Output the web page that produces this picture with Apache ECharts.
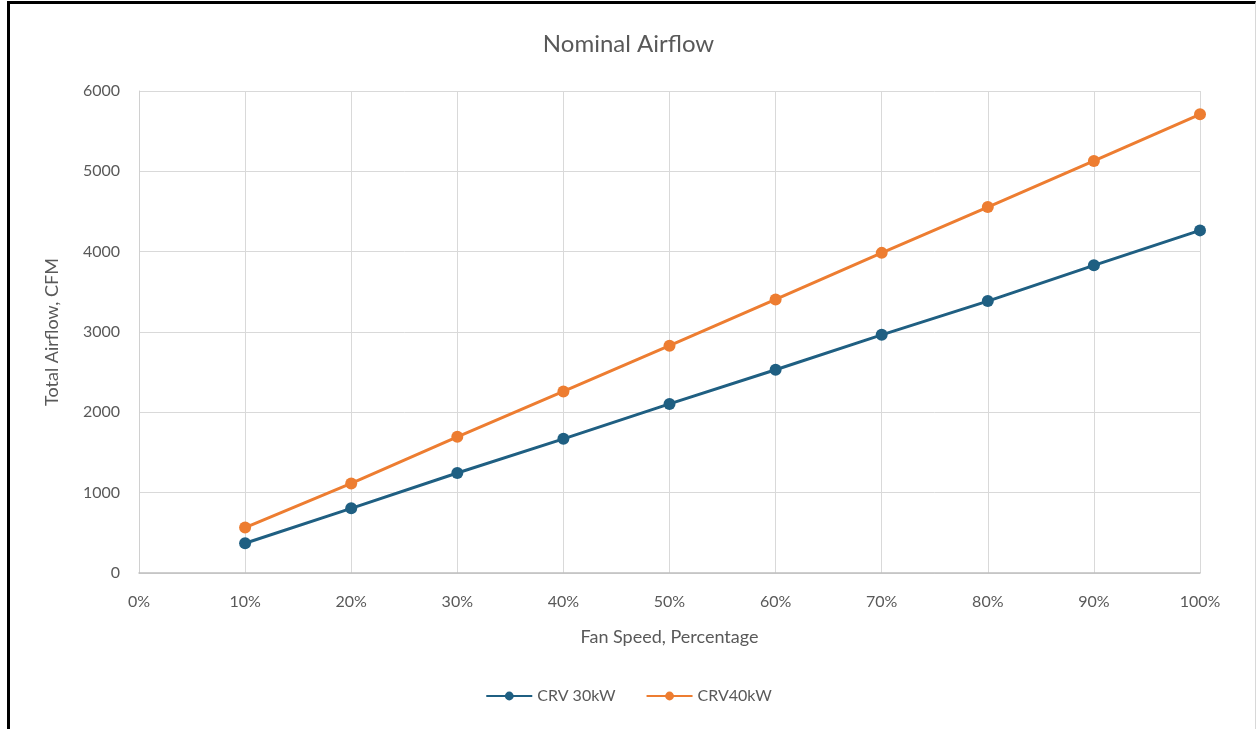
<!DOCTYPE html>
<html>
<head>
<meta charset="utf-8">
<script src="https://cdn.jsdelivr.net/npm/echarts@6/dist/echarts.min.js"></script>
<style>
html,body{margin:0;padding:0;background:#fff;}
#frame{position:absolute;left:7px;top:1px;width:1245px;height:728px;border-top:3px solid #000;border-left:3px solid #000;border-right:1px solid #d8d8d8;}
#chart{position:absolute;left:0;top:0;width:1257px;height:729px;}
</style>
</head>
<body>
<div id="frame"></div>
<div id="chart"></div>
<script>
const fanSpeed = [10, 20, 30, 40, 50, 60, 70, 80, 90, 100];
const crv30 = [370, 805, 1245, 1670, 2105, 2530, 2965, 3385, 3830, 4265];
const crv40 = [565, 1115, 1695, 2260, 2830, 3405, 3985, 4555, 5130, 5710];
const seriesNames = ['CRV 30kW', 'CRV40kW'];
const colors = ['#1f5f82', '#ed7d31'];

const chart = echarts.init(document.getElementById('chart'));
const font = 'Lato, "Open Sans", sans-serif';
function pairs(vals){ return fanSpeed.map((x,i)=>[x, vals[i]]); }
chart.setOption({
  animation: false,
  title: {
    text: 'Nominal Airflow', left: 'center', top: 27,
    textStyle: {fontFamily: font, fontSize: 24, fontWeight: 'normal', color: '#595959'}
  },
  legend: {
    bottom: 20, left: 'center', itemGap: 30, itemWidth: 46, itemHeight: 11,
    data: seriesNames,
    textStyle: {fontFamily: font, fontSize: 16, color: '#595959'}
  },
  grid: {left: 139, right: 57, top: 91, bottom: 156, containLabel: false},
  xAxis: {
    type: 'value', min: 0, max: 100, interval: 10,
    name: 'Fan Speed, Percentage', nameLocation: 'middle', nameGap: 55,
    nameTextStyle: {fontFamily: font, fontSize: 18, color: '#595959'},
    axisLine: {show: true, lineStyle: {color: '#bfbfbf', width: 1.5}},
    axisTick: {show: false},
    axisLabel: {formatter: '{value}%', margin: 21, fontFamily: font, fontSize: 16, color: '#595959'},
    splitLine: {show: true, lineStyle: {color: '#d9d9d9', width: 1}}
  },
  yAxis: {
    type: 'value', min: 0, max: 6000, interval: 1000,
    name: 'Total Airflow, CFM', nameLocation: 'middle', nameGap: 78,
    nameTextStyle: {fontFamily: font, fontSize: 18, color: '#595959'},
    axisLine: {show: true, lineStyle: {color: '#d0d0d0'}},
    axisTick: {show: false},
    axisLabel: {formatter: function(v){ return String(v); }, margin: 19, fontFamily: font, fontSize: 16, color: '#595959'},
    splitLine: {show: true, lineStyle: {color: '#d9d9d9', width: 1}}
  },
  series: [
    {name: seriesNames[0], type: 'line', data: pairs(crv30), symbol: 'circle', symbolSize: 12,
     itemStyle: {color: colors[0]}, lineStyle: {color: colors[0], width: 3}},
    {name: seriesNames[1], type: 'line', data: pairs(crv40), symbol: 'circle', symbolSize: 12,
     itemStyle: {color: colors[1]}, lineStyle: {color: colors[1], width: 3}}
  ]
});
</script>
</body>
</html>
